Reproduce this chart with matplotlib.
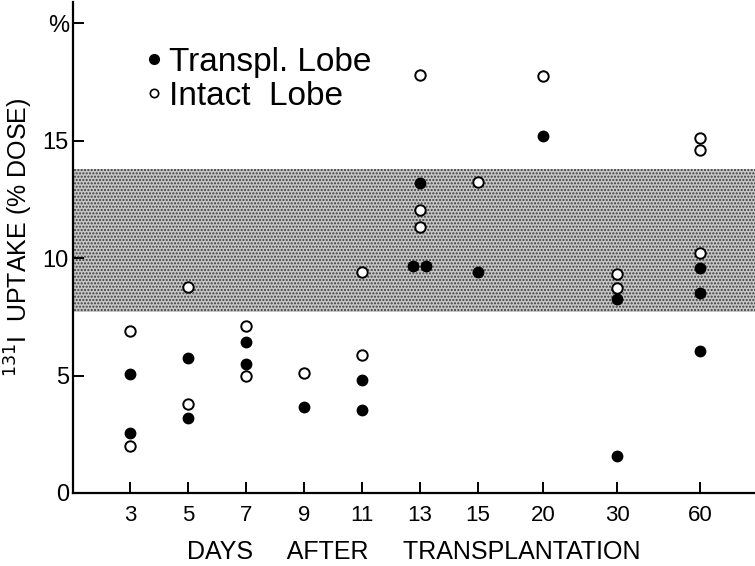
import numpy as np
import matplotlib
matplotlib.use('Agg')
import matplotlib.pyplot as plt
from matplotlib.lines import Line2D

plt.rcParams['font.family'] = ['Liberation Sans', 'DejaVu Sans']

# data
tick_days = [3, 5, 7, 9, 11, 13, 15, 20, 30, 60]
transpl_days = [3, 3, 5, 5, 7, 7, 9, 11, 11, 12.75, 13.2, 13, 15, 20, 30, 30, 60, 60, 60]
transpl_vals = [5.05, 2.54, 5.73, 3.18, 6.44, 5.49, 3.67, 4.81, 3.53, 9.67, 9.67, 13.18,
                9.42, 15.19, 8.25, 1.57, 9.56, 8.5, 6.04]
intact_days = [3, 3, 5, 5, 7, 7, 9, 11, 11, 13, 13, 13, 15, 20, 30, 30, 60, 60, 60]
intact_vals = [6.91, 2.01, 8.75, 3.77, 7.12, 4.98, 5.12, 5.89, 9.42, 17.79, 12.04, 11.33,
               13.25, 17.74, 9.31, 8.74, 15.12, 14.6, 10.2]
normal_low = 7.7
normal_high = 13.8
y_ticks = [0, 5, 10, 15, 20]
y_ticklabels = ['0', '5', '10', '15', '%']

# broken day axis: linear up to 15, compressed after
knot_days = [1, 3, 15, 20, 30, 60, 100]
knot_pos = [-1, 0, 6, 7.12, 8.40, 9.83, 10.8]

def fwd(d):
    return np.interp(d, knot_days, knot_pos)

def inv(p):
    return np.interp(p, knot_pos, knot_days)

fig = plt.figure(figsize=(7.55, 5.66), dpi=100)
ax = fig.add_axes([0.0967, 0.129, 0.9033, 0.8675])
ax.set_xscale('function', functions=(fwd, inv))
ax.set_xlim(inv(-0.983), inv(10.776))
ax.set_ylim(0, 20.9)

ax.axhspan(normal_low, normal_high, facecolor='#c6c6c6', hatch='.....',
           edgecolor='#3a3a3a', linewidth=0, zorder=0)

ax.plot(intact_days, intact_vals, 'o', ls='none', ms=7.5, mfc='white', mec='black',
        mew=1.4, zorder=3)
ax.plot(transpl_days, transpl_vals, 'o', ls='none', ms=7.5, mfc='black', mec='black',
        zorder=4)

for s in ['top', 'right']:
    ax.spines[s].set_visible(False)
for s in ['left', 'bottom']:
    ax.spines[s].set_linewidth(1.6)

ax.set_xticks(tick_days)
ax.set_xticklabels([str(d) for d in tick_days])
ax.xaxis.set_minor_locator(matplotlib.ticker.NullLocator())
ax.set_yticks(y_ticks)
ax.set_yticklabels(y_ticklabels)
ax.tick_params(axis='x', direction='in', length=8, width=1.4, pad=9, labelsize=16)
ax.tick_params(axis='y', direction='in', length=8, width=1.4, pad=3, labelsize=17)

ax.set_xlabel('DAYS     AFTER     TRANSPLANTATION', fontsize=18)
ax.xaxis.set_label_coords(0.5, -0.096)
ax.set_ylabel('$^{131}$I  UPTAKE (% DOSE)', fontsize=18)
ax.yaxis.set_label_coords(-0.056, 0.52)

handles = [Line2D([], [], marker='o', ls='none', ms=7, mfc='black', mec='black'),
           Line2D([], [], marker='o', ls='none', ms=6, mfc='white', mec='black', mew=1.2)]
ax.legend(handles, ['Transpl. Lobe', 'Intact  Lobe'], loc='upper left',
          bbox_to_anchor=(0.079, 0.942), frameon=False, fontsize=24,
          handlelength=0.6, handletextpad=0.15, labelspacing=0.08, borderpad=0)

fig.savefig('out.png', dpi=100)
